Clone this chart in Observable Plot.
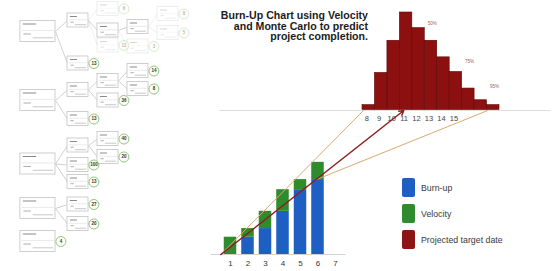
<!DOCTYPE html>
<html><head><meta charset="utf-8">
<script src="https://cdn.jsdelivr.net/npm/d3@7"></script>
<script src="https://cdn.jsdelivr.net/npm/@observablehq/plot@0.6"></script>
<style>
html,body{margin:0;padding:0;background:#fff;}
#wrap{position:relative;width:557px;height:271px;overflow:hidden;font-family:"Liberation Sans",Arial,sans-serif;background:#fff;}
#wrap svg{position:absolute;left:0;top:0;overflow:visible;}
.title{position:absolute;right:189px;top:10px;text-align:right;font-weight:bold;font-size:10.6px;line-height:10.5px;color:#1c1c1c;white-space:nowrap;}
.sw{position:absolute;left:402px;width:13px;height:19px;border-radius:2px;}
.lt{position:absolute;left:421px;font-size:8.8px;line-height:11px;color:#3a3a3a;white-space:nowrap;}
</style></head><body><div id="wrap"></div>
<script>
// ---- burn-up data ----
const sprints = [1, 2, 3, 4, 5, 6];
const burnUp = [0, 12, 18, 30, 45, 52];
const velocity = [12, 6, 12, 15, 7, 12];
const sprintTicks = [1, 2, 3, 4, 5, 6, 7];
const scope = 100;
// ---- Monte Carlo simulation (completion sprint histogram) ----
const simWeeks = [8, 9, 10, 11, 12, 13, 14, 15, 16, 17, 18];
const simCounts = [5, 38, 71, 100, 84, 71, 54, 39, 22, 10, 5];
const simTicks = [8, 9, 10, 11, 12, 13, 14, 15];
const percentileLabels = ["50%", "75%", "95%"];
const percentileWeeks = [13.1, 16.1, 18.1];
const percentileLevels = [89, 50, 24];
// ---- projections ----
const projectionNames = ["optimistic", "likely", "pessimistic"];
const projectionFromSprint = [0.45, 0.45, 5.9];
const projectionFromPoints = [0, 0, 52];
const projectionToSprint = [8.6, 10.9, 15.7];
// ---- legend ----
const legendLabels = ["Burn-up", "Velocity", "Projected target date"];
const legendColors = ["#1f5fc4", "#2e8b2e", "#8c1414"];
// ---- story tree ----
const treeIds = ["R1","A1","A2","A1a","A1b","A1c","A1b1","A1b2","A1b1a","A1b1b","R2","B1","B2","B1a","B1b","B1a1","B1a2","R3","C1","C2","C3","C1a","C1b","R4","D1","D2","R5"];
const treeParents = [null,"R1","R1","A1","A1","A1","A1b","A1b","A1b1","A1b1",null,"R2","R2","B1","B1","B1a","B1a",null,"R3","R3","R3","C1","C1",null,"R4","R4",null];
const treeDepth = [0,1,1,2,2,2,3,3,4,4,0,1,1,2,2,3,3,0,1,1,1,2,2,0,1,1,0];
const treeRow = [3.1,2.0,6.3,0.85,3.0,4.5,2.65,4.6,1.35,3.25,10.0,8.95,11.85,8.05,10.0,7.05,8.85,16.35,14.5,16.45,18.15,13.85,15.65,20.8,20.4,22.35,24.1];
const treeEstimate = [null,null,13,6,null,11,null,3,8,5,null,null,13,null,36,14,8,null,null,100,13,40,20,null,27,20,4];
const treeFaint = [0,0,0,1,0,1,0,1,1,1,0,0,0,0,0,0,0,0,0,0,0,0,0,0,0,0,0];

const font = '"Liberation Sans", Arial, sans-serif';
const wrap = document.getElementById("wrap");

// ---------- tree ----------
const nodes = treeIds.map((id, i) => ({id, parent: treeParents[i], depth: treeDepth[i], row: treeRow[i], est: treeEstimate[i], faint: treeFaint[i]}));
const byId = new Map(nodes.map(n => [n.id, n]));
const cx1 = d => d.depth === 0 ? -0.57 : d.depth;
const cx2 = d => d.depth === 0 ? 0.6 : d.depth + 0.7;
const ch = d => d.depth === 0 ? 2.1 : 1.4;
const cy1 = d => d.row - ch(d) / 2;
const cy2 = d => d.row + ch(d) / 2;
const cw = d => cx2(d) - cx1(d);
const op = d => d.faint ? 0.35 : 1;
const edges = nodes.filter(n => n.parent).map(n => ({p: byId.get(n.parent), c: n}));
const leaves = nodes.filter(n => n.est != null);

const tree = Plot.plot({
  width: 200, height: 271, margin: 0,
  x: {domain: [0, 6], range: [37, 217], axis: null, label: null},
  y: {domain: [0, 27.1], range: [0, 271], axis: null, label: null},
  style: {background: "transparent", overflow: "visible"},
  marks: [
    Plot.link(edges, {x1: e => cx2(e.p), y1: e => e.p.row, x2: e => cx1(e.c), y2: e => e.c.row, stroke: "#c4c4c4", strokeWidth: 0.8, strokeOpacity: e => e.c.faint ? 0.35 : 1}),
    Plot.rect(nodes, {x1: cx1, x2: cx2, y1: cy1, y2: cy2, fill: "#fff", stroke: "#c2c2c2", strokeWidth: 0.8, opacity: op}),
    Plot.link(nodes, {x1: d => cx1(d) + 0.08, x2: d => cx1(d) + 0.45 * cw(d), y1: d => cy1(d) + 0.3, y2: d => cy1(d) + 0.3, stroke: "#8a8a8a", strokeWidth: 1, opacity: op}),
    Plot.link(nodes, {x1: d => cx1(d) + 0.05, x2: d => cx2(d) - 0.05, y1: d => cy1(d) + 0.45 * ch(d), y2: d => cy1(d) + 0.45 * ch(d), stroke: "#dcdcdc", strokeWidth: 0.6, opacity: op}),
    Plot.link(nodes, {x1: d => cx1(d) + 0.1, x2: d => cx1(d) + 0.3 * cw(d), y1: d => cy1(d) + 0.62 * ch(d), y2: d => cy1(d) + 0.62 * ch(d), stroke: "#9a9a9a", strokeWidth: 0.8, opacity: op}),
    Plot.link(nodes, {x1: d => cx1(d) + 0.35 * cw(d), x2: d => cx2(d) - 0.08, y1: d => cy1(d) + 0.8 * ch(d), y2: d => cy1(d) + 0.8 * ch(d), stroke: "#b0b0b0", strokeWidth: 0.7, opacity: op}),
    Plot.dot(leaves, {x: d => cx2(d) + 0.18, y: "row", r: 5, fill: "#fbfff7", stroke: "#94c57c", strokeWidth: 1, opacity: op}),
    Plot.text(leaves, {x: d => cx2(d) + 0.18, y: "row", text: d => String(d.est), fontSize: 4.5, fontWeight: "bold", fill: "#333", opacity: op, fontFamily: font})
  ]
});
wrap.appendChild(tree);

// ---------- histogram ----------
const sim = simWeeks.map((w, i) => ({week: w, count: simCounts[i]}));
const pct = percentileLabels.map((l, i) => ({label: l, week: percentileWeeks[i], level: percentileLevels[i]}));
const hist = Plot.plot({
  width: 557, height: 271,
  marginLeft: 362, marginRight: 58, marginTop: 12, marginBottom: 161.5,
  x: {domain: [7.5, 18.5], label: null},
  y: {domain: [0, 100], axis: null, label: null},
  style: {background: "transparent", fontFamily: font, color: "#444", overflow: "visible"},
  marks: [
    Plot.rect(sim, {x1: d => d.week - 0.5, x2: d => d.week + 0.5, y1: 0, y2: "count", fill: "#8c1010", stroke: "#5e0808", strokeWidth: 0.6}),
    Plot.text(pct, {x: "week", y: "level", text: "label", fontSize: 4.5, fill: "#a06060"}),
    Plot.axisX({ticks: simTicks, tickSize: 0, tickPadding: 6, fontSize: 7.5, dx: -2, label: null, tickFormat: d => String(d)})
  ]
});
wrap.appendChild(hist);

// ---------- burn-up ----------
const rows = sprints.map((s, i) => ({sprint: s, burnUp: burnUp[i], velocity: velocity[i]}));
const proj = projectionNames.map((n, i) => ({name: n, xa: projectionFromSprint[i], ya: projectionFromPoints[i], xb: projectionToSprint[i], yb: scope}));
const bu = Plot.plot({
  width: 557, height: 271,
  marginLeft: 219.5, marginRight: 6.75, marginTop: 110, marginBottom: 17,
  x: {domain: [0.4, 19.3], label: null},
  y: {domain: [0, scope], axis: null, label: null},
  style: {background: "transparent", fontFamily: font, color: "#333", overflow: "visible"},
  marks: [
    Plot.ruleY([0], {x1: -0.1, x2: 7.6, stroke: "#d2d2d2", strokeWidth: 1}),
    Plot.ruleY([scope], {stroke: "#dedede", strokeWidth: 1}),
    Plot.rect(rows, {x1: d => d.sprint - 0.5, x2: d => d.sprint + 0.5, y1: 0, y2: "burnUp", insetLeft: 2.5, insetRight: 2.5, fill: "#1f5fc4"}),
    Plot.rect(rows, {x1: d => d.sprint - 0.5, x2: d => d.sprint + 0.5, y1: "burnUp", y2: d => d.burnUp + d.velocity, insetLeft: 2.5, insetRight: 2.5, fill: "#2e8b2e"}),
    Plot.link(proj.filter(p => p.name !== "likely"), {x1: "xa", y1: "ya", x2: "xb", y2: "yb", stroke: "#d9aa70", strokeWidth: 1}),
    Plot.arrow(proj.filter(p => p.name === "likely"), {x1: "xa", y1: "ya", x2: "xb", y2: "yb", stroke: "#8f1d22", strokeWidth: 1.5, headLength: 5}),
    Plot.axisX({ticks: sprintTicks, tickSize: 0, tickPadding: 6, fontSize: 8, label: null, tickFormat: d => String(d)})
  ]
});
wrap.appendChild(bu);

// ---------- title ----------
const title = document.createElement("div");
title.className = "title";
title.innerHTML = "Burn-Up Chart using Velocity<br>and Monte Carlo to predict<br>project completion.";
wrap.appendChild(title);

// ---------- legend ----------
legendLabels.forEach((label, i) => {
  const sw = document.createElement("div");
  sw.className = "sw";
  sw.style.top = (178 + i * 26) + "px";
  sw.style.background = legendColors[i];
  wrap.appendChild(sw);
  const t = document.createElement("div");
  t.className = "lt";
  t.style.top = (182.5 + i * 26) + "px";
  t.textContent = label;
  wrap.appendChild(t);
});
</script></body></html>
